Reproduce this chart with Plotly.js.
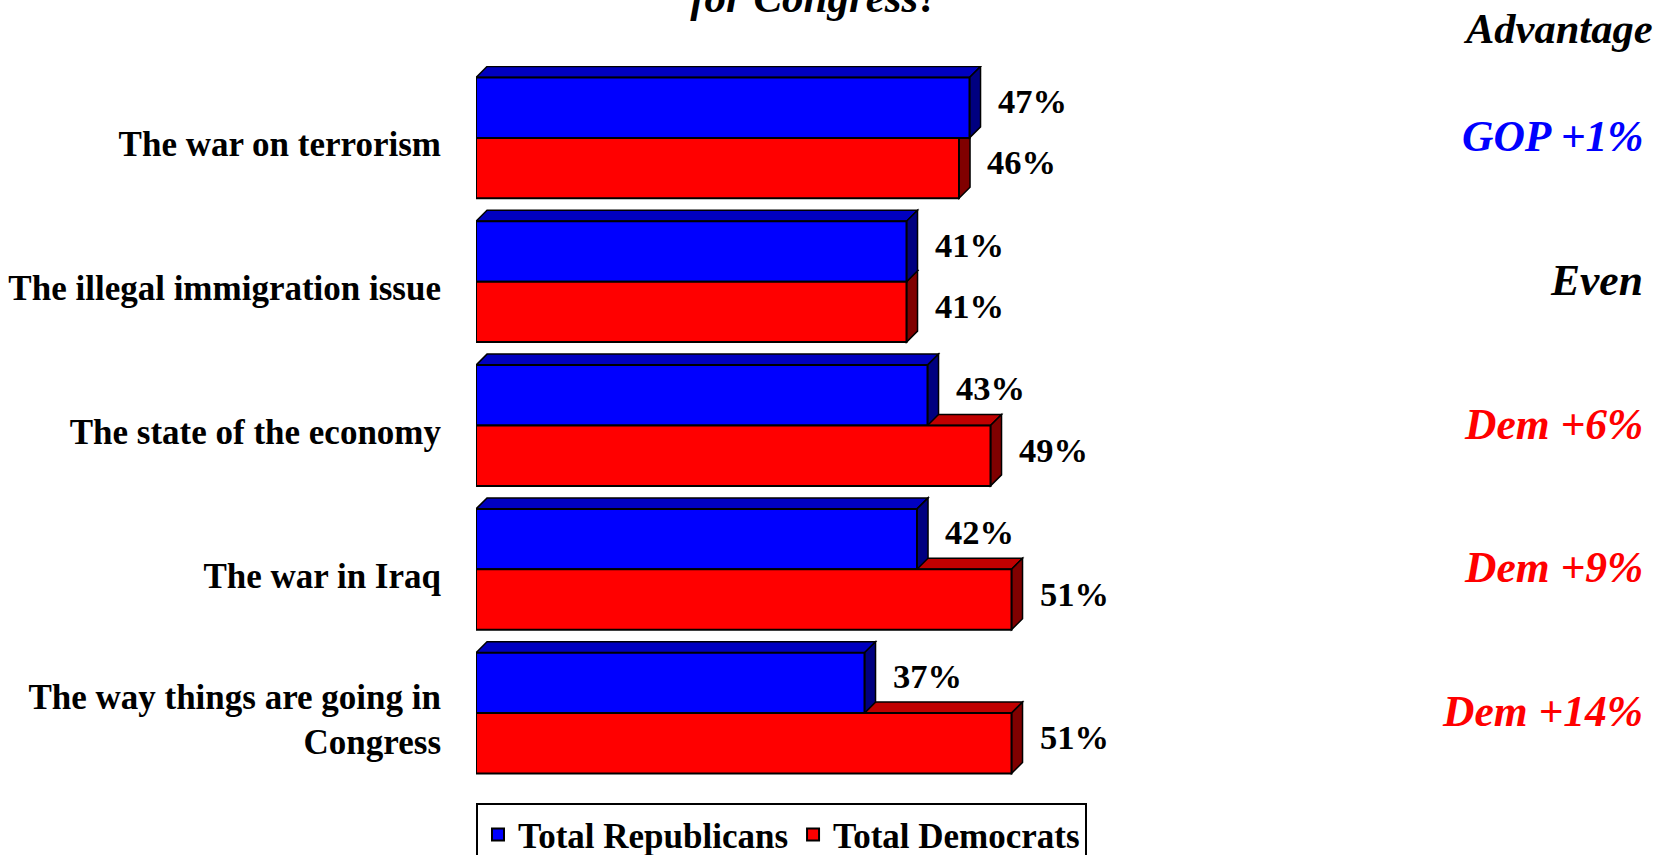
<!DOCTYPE html>
<html>
<head>
<meta charset="utf-8">
<script src="https://cdn.plot.ly/plotly-3.0.1.min.js"></script>
<style>html,body{margin:0;padding:0;background:#fff;}#chart{width:1667px;height:855px;}</style>
</head>
<body>
<div id="chart"></div>
<script>
// ---- data ----
var categories = [
  "The war on terrorism",
  "The illegal immigration issue",
  "The state of the economy",
  "The war in Iraq",
  "The way things are going in<br>Congress"
];
var republicans = [47, 41, 43, 42, 37];
var democrats   = [46, 41, 49, 51, 51];
var seriesNames = ["Total Republicans", "Total Democrats"];
var titleText = "for Congress?";
var advantageHeader = "Advantage";

// ---- layout constants ----
var FONT = "Liberation Serif, Times New Roman, serif";
var W = 0.42;          // bar thickness (category units)
var DX = 1.05;         // 3D depth in x data units
var DY = 0.0765;       // 3D depth in category units
var idx = categories.map(function(_, i){ return i; });

var blueFront = "#0000FF", blueTop = "#0000C0", blueSide = "#000080";
var redFront = "#FF0000", redTop = "#C00000", redSide = "#800000";

function depthShapes(vals, offsetSign, topCol, sideCol) {
  var out = [];
  vals.forEach(function(v, i){
    var y0 = offsetSign < 0 ? i - W : i;      // top edge (axis reversed)
    var y1 = y0 + W;                            // bottom edge
    out.push({type:"path", xref:"x", yref:"y", layer:"below",
      path:"M0,"+y0+" L"+DX+","+(y0-DY)+" L"+(v+DX)+","+(y0-DY)+" L"+v+","+y0+" Z",
      fillcolor: topCol, line:{color:"#000", width:1.5}});
    out.push({type:"path", xref:"x", yref:"y", layer:"below",
      path:"M"+v+","+y0+" L"+(v+DX)+","+(y0-DY)+" L"+(v+DX)+","+(y1-DY)+" L"+v+","+y1+" Z",
      fillcolor: sideCol, line:{color:"#000", width:1.5}});
  });
  return out;
}

var shapes = [].concat(
  depthShapes(democrats, 1, redTop, redSide),
  depthShapes(republicans, -1, blueTop, blueSide)
);

var traces = [
  {type:"bar", orientation:"h", name: seriesNames[0], x: republicans, y: idx,
   width: W, offset: -W, marker:{color: blueFront, line:{color:"#000", width:2}},
   hoverinfo:"x"},
  {type:"bar", orientation:"h", name: seriesNames[1], x: democrats, y: idx,
   width: W, offset: 0, marker:{color: redFront, line:{color:"#000", width:2}},
   hoverinfo:"x"}
];

var annotations = [];
republicans.forEach(function(v, i){
  annotations.push({x: v, y: i - W/2, xref:"x", yref:"y", text: v + "%", showarrow:false,
    xanchor:"left", yanchor:"middle", xshift: 26, yshift: 7,
    font:{family: FONT, size: 34.5, color:"#000", weight:"bold"}});
});
democrats.forEach(function(v, i){
  annotations.push({x: v, y: i + W/2, xref:"x", yref:"y", text: v + "%", showarrow:false,
    xanchor:"left", yanchor:"middle", xshift: 26, yshift: 6,
    font:{family: FONT, size: 34.5, color:"#000", weight:"bold"}});
});
// Advantage column derived from the data
annotations.push({x: 1.8714, y: 1.0515, xref:"paper", yref:"paper", text: advantageHeader,
  showarrow:false, xanchor:"right", yanchor:"middle",
  font:{family: FONT, size: 42.5, color:"#000", weight:"bold", style:"italic"}});
idx.forEach(function(i){
  var d = democrats[i] - republicans[i];
  var txt, col;
  if (d > 0) { txt = "Dem +" + d + "%"; col = "#FF0000"; }
  else if (d < 0) { txt = "GOP +" + (-d) + "%"; col = "#0000FF"; }
  else { txt = "Even"; col = "#000000"; }
  annotations.push({x: 1.855, y: i, xref:"paper", yref:"y", text: txt, showarrow:false,
    xanchor:"right", yanchor:"middle", yshift: 2,
    font:{family: FONT, size: 43.5, color: col, weight:"bold", style:"italic"}});
});

var layout = {
  width: 1667, height: 855,
  paper_bgcolor:"#fff", plot_bgcolor:"#fff",
  margin:{l:476, r:561, t:66, b:70, autoexpand:false},
  title:{text: titleText, xref:"container", yref:"container", x: 0.4889, y: 0.9854,
    xanchor:"center", yanchor:"bottom",
    font:{family: FONT, size: 43, color:"#000", weight:"bold", style:"italic"}},
  barmode:"overlay",
  xaxis:{range:[0, 60], showgrid:false, zeroline:false, showticklabels:false, ticks:"", showline:false, fixedrange:true},
  yaxis:{range:[4.5, -0.5], tickvals: idx, ticktext: categories, showgrid:false, zeroline:false,
    ticks:"", showline:false, ticklabelstandoff: 34, ticklabelshift: -6,
    tickfont:{family: FONT, size: 35, color:"#000", weight:"bold"}, fixedrange:true},
  showlegend:true,
  legend:{orientation:"h", x:0, xanchor:"left", y:-0.0255, yanchor:"top",
    bgcolor:"#fff", bordercolor:"#000", borderwidth:2,
    font:{family: FONT, size: 35, color:"#000", weight:"bold"}, traceorder:"normal"},
  shapes: shapes,
  annotations: annotations
};

Plotly.newPlot("chart", traces, layout, {displayModeBar:false, staticPlot:true});
</script>
</body>
</html>
